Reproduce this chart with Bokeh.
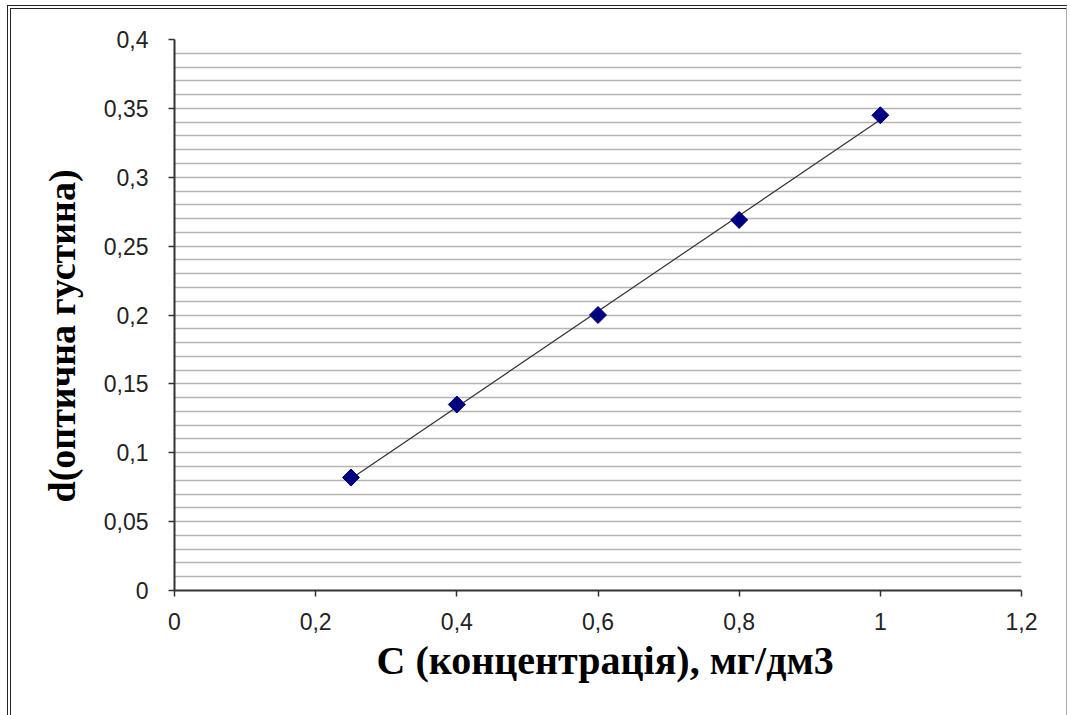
import numpy as np
from bokeh.plotting import figure
from bokeh.models import Range1d, FixedTicker, ColumnDataSource, InlineStyleSheet, Title
from bokeh.embed import file_html
from bokeh.resources import INLINE

# data
conc = [0.25, 0.4, 0.6, 0.8, 1.0]
density = [0.082, 0.135, 0.2, 0.269, 0.345]
x_ticks = [0, 0.2, 0.4, 0.6, 0.8, 1.0, 1.2]
x_labels = ["0", "0,2", "0,4", "0,6", "0,8", "1", "1,2"]
y_ticks = [0, 0.05, 0.1, 0.15, 0.2, 0.25, 0.3, 0.35, 0.4]
y_labels = ["0", "0,05", "0,1", "0,15", "0,2", "0,25", "0,3", "0,35", "0,4"]
y_grid = [round(i * 0.01, 2) for i in range(41)]
x_title = "C (концентрація), мг/дм3"
y_title = "d(оптична густина)"

p = figure(width=1070, height=715, output_backend="svg", toolbar_location=None,
           x_range=Range1d(0, 1.2), y_range=Range1d(0, 0.4),
           min_border_left=174, min_border_right=49, min_border_top=39, min_border_bottom=125,
           frame_width=847, frame_height=551)
p.background_fill_color = "white"
p.border_fill_color = "white"
p.outline_line_color = None

serif = "'Liberation Serif', 'Times New Roman', serif"
for ax in (p.xaxis[0], p.yaxis[0]):
    ax.axis_line_color = "#333333"
    ax.axis_line_width = 2
    ax.major_tick_line_color = "#333333"
    ax.major_tick_line_width = 1.5
    ax.major_tick_in = 0
    ax.major_tick_out = 6
    ax.minor_tick_line_color = None
    ax.major_label_text_font = "Liberation Sans"
    ax.major_label_text_font_size = "23px"
    ax.major_label_text_color = "#222222"

p.xaxis.ticker = FixedTicker(ticks=x_ticks)
p.xaxis.major_label_overrides = {t: l for t, l in zip(x_ticks, x_labels)}
p.xaxis.major_label_standoff = 16

p.yaxis.ticker = FixedTicker(ticks=y_ticks)
p.yaxis.major_label_overrides = {t: l for t, l in zip(y_ticks, y_labels)}
p.yaxis.major_label_standoff = 20

p.add_layout(Title(text=x_title, align="left", offset=202, standoff=6,
                   text_font=serif, text_font_style="bold", text_font_size="40px",
                   text_color="black"), "below")
p.add_layout(Title(text=y_title, align="left", offset=88, standoff=36,
                   text_font=serif, text_font_style="bold", text_font_size="38px",
                   text_color="black"), "left")

p.xgrid.grid_line_color = None
p.ygrid.ticker = FixedTicker(ticks=y_grid)
p.ygrid.grid_line_color = "#b4b4b4"
p.ygrid.grid_line_width = 1.5

# linear trend line
k, b = np.polyfit(conc, density, 1)
xs = [min(conc), max(conc)]
p.line(xs, [k * x + b for x in xs], line_color="#333333", line_width=1.2)

src = ColumnDataSource(dict(x=conc, y=density))
p.scatter("x", "y", source=src, marker="square", size=12, angle=np.pi / 4,
          fill_color="#000080", line_color="#000080")

# outer frame of the picture
p.stylesheets = [InlineStyleSheet(css="""
:host { position: relative; }
:host::after {
  content: ''; position: absolute; left: 7px; top: 5px; right: 3px; bottom: 0px;
  border-left: 4px double #222; border-top: 4px double #222;
  border-right: 1px solid #aaa; border-bottom: none;
  pointer-events: none; box-sizing: border-box;
}
""")]

open("out.html", "w").write(file_html(p, INLINE))
